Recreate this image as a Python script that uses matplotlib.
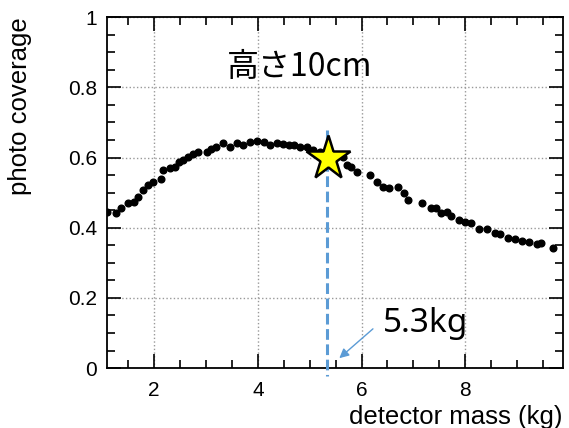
import numpy as np
import matplotlib.pyplot as plt
from matplotlib.ticker import MultipleLocator

# data
mass = [1.10, 1.27, 1.37, 1.50, 1.61, 1.69, 1.78, 1.89, 1.98, 2.14,
        2.17, 2.30, 2.40, 2.48, 2.56, 2.66, 2.75, 2.85, 3.01, 3.10,
        3.20, 3.33, 3.46, 3.59, 3.72, 3.85, 3.98, 4.11, 4.23, 4.36,
        4.49, 4.60, 4.70, 4.81, 4.94, 5.07, 5.20, 5.65, 5.71, 5.80,
        5.92, 6.16, 6.29, 6.42, 6.52, 6.71, 6.81, 6.90, 7.16, 7.34,
        7.43, 7.54, 7.64, 7.72, 7.88, 7.99, 8.12, 8.26, 8.41, 8.57,
        8.67, 8.83, 8.95, 9.10, 9.23, 9.38, 9.47, 9.70]
coverage = [0.446, 0.441, 0.455, 0.469, 0.472, 0.487, 0.506, 0.521, 0.530, 0.540,
            0.563, 0.570, 0.574, 0.586, 0.592, 0.602, 0.610, 0.617, 0.616, 0.625,
            0.630, 0.640, 0.630, 0.640, 0.635, 0.645, 0.648, 0.645, 0.635, 0.640,
            0.638, 0.636, 0.637, 0.630, 0.630, 0.621, 0.615, 0.602, 0.578, 0.572,
            0.559, 0.550, 0.531, 0.515, 0.512, 0.515, 0.500, 0.479, 0.471, 0.455,
            0.455, 0.442, 0.445, 0.434, 0.422, 0.417, 0.412, 0.396, 0.396, 0.385,
            0.382, 0.372, 0.369, 0.362, 0.360, 0.353, 0.357, 0.341]

best_mass = 5.33
best_cov = 0.60

blue = '#5B9BD5'
plt.rcParams['font.family'] = ['Liberation Sans', 'DejaVu Sans']

fig = plt.figure(figsize=(5.69, 4.28), dpi=100)
ax = fig.add_axes([0.188, 0.140, 0.801, 0.820])

ax.plot(mass, coverage, 'o', color='black', ms=4.8, zorder=3)

# vertical dashed marker line
ax.plot([best_mass, best_mass], [0.678, -0.023], color=blue, lw=2.2,
        dashes=(3.5, 1.5), clip_on=False, zorder=4)
ax.plot([best_mass + 0.03], [best_cov], marker='*', ms=33, mfc='#FFFF00',
        mec='black', mew=1.8, zorder=5)

ax.annotate('', xy=(5.53, 0.023), xytext=(6.26, 0.117),
            arrowprops=dict(arrowstyle='-|>', color=blue, lw=1.0,
                            mutation_scale=14))
ax.text(6.41, 0.103, '5.3kg', fontsize=24, va='baseline', ha='left',
        family=['Noto Sans', 'DejaVu Sans'])
ax.text(4.81, 0.858, '高さ10cm', fontsize=23, va='center', ha='center',
        family=['Noto Sans CJK JP', 'DejaVu Sans'])

ax.set_xlim(1.09, 9.88)
ax.set_ylim(0, 1)
ax.xaxis.set_major_locator(MultipleLocator(2))
ax.xaxis.set_minor_locator(MultipleLocator(0.5))
ax.yaxis.set_major_locator(MultipleLocator(0.2))
ax.yaxis.set_minor_locator(MultipleLocator(0.05))
ax.set_yticks([0, 0.2, 0.4, 0.6, 0.8, 1.0])
ax.set_yticklabels(['0', '0.2', '0.4', '0.6', '0.8', '1'])

ax.tick_params(which='both', direction='in', top=True, right=True,
               labelsize=15, width=1.2)
ax.tick_params(which='major', length=10)
ax.tick_params(which='minor', length=6)
ax.tick_params(axis='x', pad=9)
ax.tick_params(axis='y', pad=7)
for s in ax.spines.values():
    s.set_linewidth(1.3)

ax.grid(True, which='major', ls=':', color='#999999', lw=1.0)

ax.set_xlabel('detector mass (kg)', fontsize=18.5, ha='right', x=1.0)
ax.set_ylabel('photo coverage', fontsize=18.5, ha='right', y=1.0)
ax.xaxis.set_label_coords(1.0, -0.105)
ax.yaxis.set_label_coords(-0.165, 1.0)

fig.savefig('out.png', dpi=100)
